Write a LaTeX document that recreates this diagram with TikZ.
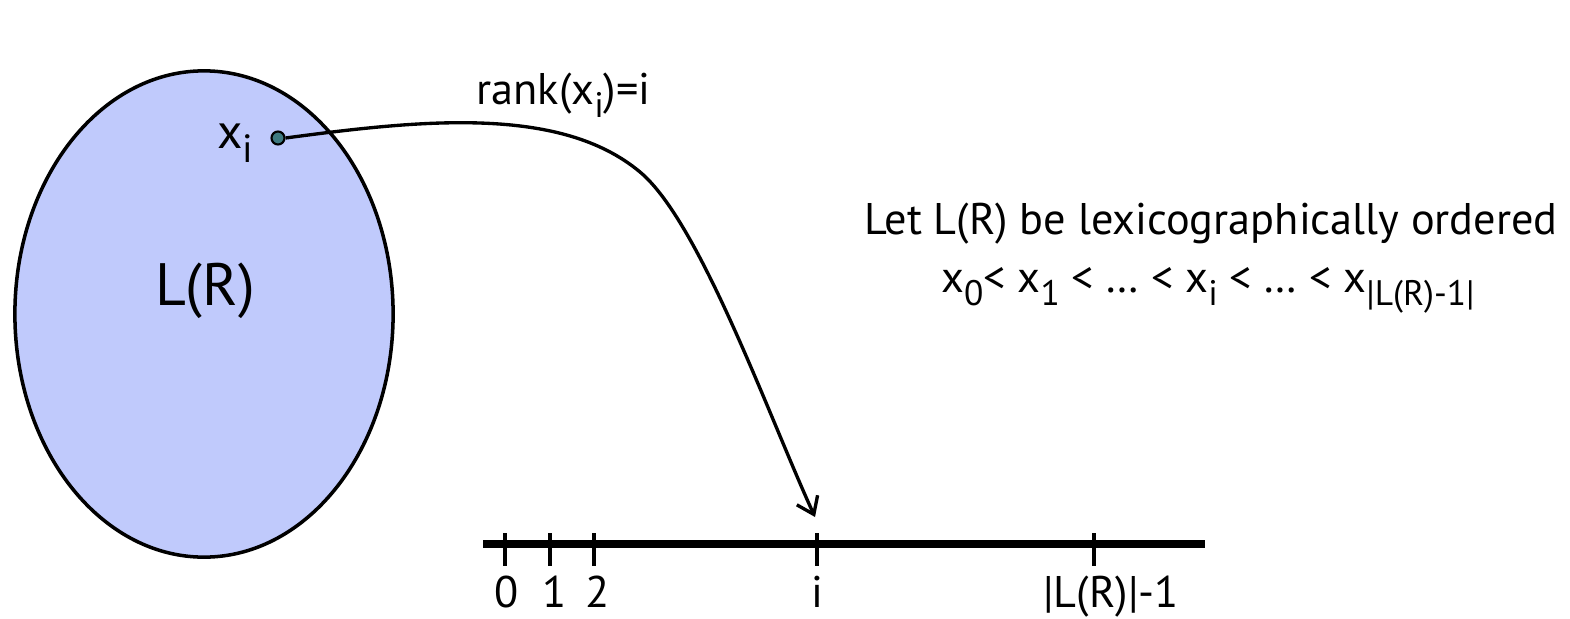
\documentclass[tikz,border=0pt]{standalone}
\usepackage{fontspec}
\setmainfont{PT Sans}
\usetikzlibrary{arrows.meta}
\definecolor{insieme}{RGB}{192,202,252}
\definecolor{punto}{RGB}{62,122,128}
\newcommand{\pedice}[1]{\raisebox{-0.3em}{\scalebox{0.8}{#1}}}

\begin{document}
\begin{tikzpicture}[x=0.01cm, y=-0.01cm, font=\fontsize{12.6}{14}\selectfont]
        \useasboundingbox (0,0) rectangle (1570,618);
        % Insieme
        \filldraw[fill=insieme, line width=1pt] (204,314) ellipse (1.89cm and 2.43cm);
        \node[anchor=base, inner sep=0pt, font=\fontsize{17}{19}\selectfont] (insieme) at (205,305) {L(R)};

        % Elemento x_i
        \node[circle, draw, fill=punto, inner sep=0pt, minimum size=0.13cm, line width=0.6pt] (xi) at (278,138) {};
        \node[anchor=base east, inner sep=0pt, font=\fontsize{14}{16}\selectfont] (lxi) at (254,148) {x\pedice{i}};

        % Freccia verso la posizione i
        \coordinate (picco) at (640,172);
        \coordinate (arrivo) at (815,517);
        \draw[-{Straight Barb[length=4.5pt,width=6.5pt]}, line width=0.95pt] (xi.east) .. controls (420,120) and (560,105) .. (picco) .. controls (700,222) and (769,417) .. (arrivo);
        \node[anchor=base west, inner sep=0pt] (rank) at (476,104) {rank(x\pedice{i})=i};

        % Asse delle posizioni
        \coordinate (inizio) at (483,544);
        \coordinate (fine) at (1205,544);
        \draw[line width=2pt] (inizio) -- (fine);
        \foreach \x/\lab/\lx in {505/0/507, 550/1/555, 594/2/598, 817/i/817, 1094/{|L(R)|-1}/1111} {
            \draw[line width=0.95pt] (\x,533) -- (\x,566); % tacca
            \node[anchor=base, inner sep=0pt] (pos\x) at (\lx,607) {\lab};
        }

        % Ordinamento
        \node[anchor=base, inner sep=0pt] (let) at (1211,234) {Let L(R) be lexicographically ordered};
        \node[anchor=base, inner sep=0pt] (ordine) at (1208,292) {x\pedice{0}< x\pedice{1} < … < x\pedice{i} < … < x\pedice{|L(R)-1|}};
\end{tikzpicture}
\end{document}
